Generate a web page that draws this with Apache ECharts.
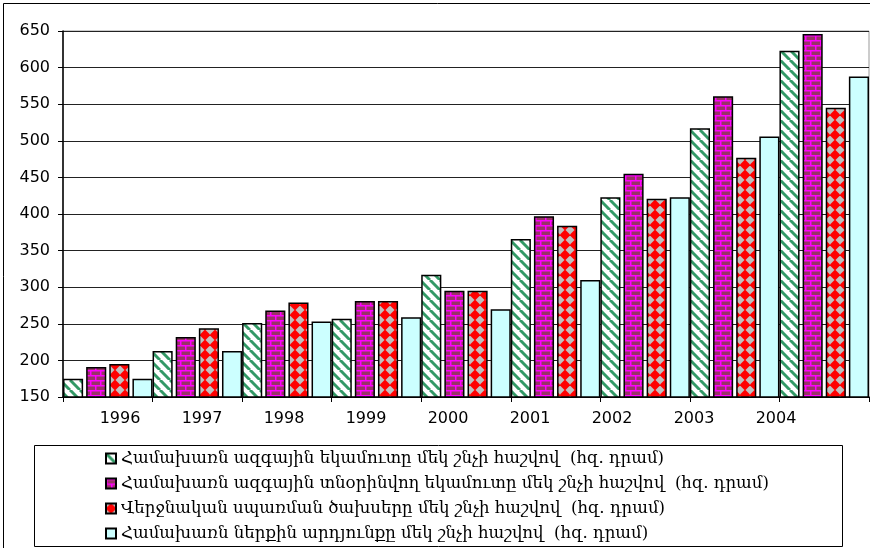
<!DOCTYPE html>
<html>
<head>
<meta charset="utf-8">
<script src="https://cdn.jsdelivr.net/npm/echarts@6/dist/echarts.min.js"></script>
<style>
  html, body {margin: 0; padding: 0; background: #fff;}
  #main {width: 870px; height: 548px;}
</style>
</head>
<body>
<div id="main"></div>
<script>
const years = ['1996', '1997', '1998', '1999', '2000', '2001', '2002', '2003', '2004']
const gniPerCapita = [175, 213, 251, 257, 317, 366, 423, 517, 623]
const disposablePerCapita = [191, 232, 268, 281, 295, 397, 455, 561, 646]
const consumptionPerCapita = [195, 244, 279, 281, 295, 384, 421, 477, 545]
const gdpPerCapita = [175, 213, 253, 259, 270, 310, 423, 506, 588]
const seriesNames = [
  'Համախառն ազգային եկամուտը մեկ շնչի հաշվով  (հզ. դրամ)',
  'Համախառն ազգային տնօրինվող եկամուտը մեկ շնչի հաշվով  (հզ. դրամ)',
  'Վերջնական սպառման ծախսերը մեկ շնչի հաշվով  (հզ. դրամ)',
  'Համախառն ներքին արդյունքը մեկ շնչի հաշվով  (հզ. դրամ)'
]

// little canvas tiles for the excel-ish fills
function tile(w, h, draw) {
  const c = document.createElement('canvas')
  c.width = w
  c.height = h
  draw(c.getContext('2d'), w, h)
  return {image: c, repeat: 'repeat'}
}

const stripes = tile(10, 10, (ctx, w, h) => {
  ctx.fillStyle = '#fff'
  ctx.fillRect(0, 0, w, h)
  ctx.strokeStyle = '#339966'
  ctx.lineWidth = 3
  for (const d of [-10, 0, 10]) {
    ctx.beginPath()
    ctx.moveTo(d, 0)
    ctx.lineTo(d + 10, 10)
    ctx.stroke()
  }
})

const bricks = tile(10, 10, (ctx, w, h) => {
  ctx.fillStyle = '#993366'
  ctx.fillRect(0, 0, w, h)
  ctx.fillStyle = '#ff00ff'
  ctx.fillRect(0, 0, w, 1.5)
  ctx.fillRect(0, 5, w, 1.5)
  ctx.fillRect(0, 0, 1.5, 5)
  ctx.fillRect(5, 5, 1.5, 5)
})

const diamonds = tile(10, 10, (ctx, w, h) => {
  ctx.fillStyle = '#c0c0c0'
  ctx.fillRect(0, 0, w, h)
  ctx.fillStyle = '#ff0000'
  ctx.beginPath()
  ctx.moveTo(5, -0.5)
  ctx.lineTo(10.5, 5)
  ctx.lineTo(5, 10.5)
  ctx.lineTo(-0.5, 5)
  ctx.closePath()
  ctx.fill()
})

const fills = [stripes, bricks, diamonds, '#ccffff']
const values = [gniPerCapita, disposablePerCapita, consumptionPerCapita, gdpPerCapita]

const chart = echarts.init(document.getElementById('main'), null, {renderer: 'canvas'})
chart.setOption({
  animation: false,
  backgroundColor: '#fff',
  textStyle: {fontFamily: 'DejaVu Sans'},
  grid: [
    {left: 63, right: 1, top: 31, bottom: 151, show: true, borderColor: '#999', borderWidth: 1},
    {left: 79, right: 53, top: 31, bottom: 151}
  ],
  xAxis: [
    {
      type: 'category',
      gridIndex: 0,
      data: years,
      axisLine: {lineStyle: {color: '#000', width: 1.5}},
      axisTick: {show: true, length: 5, lineStyle: {color: '#000'}},
      axisLabel: {show: false}
    },
    {
      // labels drawn on a slightly narrower axis, like in the original
      type: 'category',
      gridIndex: 1,
      data: years,
      axisLine: {show: false},
      axisTick: {show: false},
      axisLabel: {color: '#000', fontSize: 16, margin: 14, fontFamily: 'DejaVu Sans'}
    }
  ],
  yAxis: [
    {
      type: 'value',
      gridIndex: 0,
      min: 150,
      max: 650,
      interval: 50,
      axisLine: {show: true, lineStyle: {color: '#000', width: 1.5}},
      axisTick: {show: true, length: 5, lineStyle: {color: '#000'}},
      axisLabel: {color: '#000', fontSize: 16, margin: 13, fontFamily: 'DejaVu Sans'},
      splitLine: {lineStyle: {color: '#222', width: 1}}
    },
    {type: 'value', gridIndex: 1, min: 150, max: 650, show: false, splitLine: {show: false}}
  ],
  legend: {
    orient: 'vertical',
    left: 100,
    top: 445,
    height: 100,
    itemWidth: 10,
    itemHeight: 10,
    itemGap: 8,
    icon: 'rect',
    textStyle: {color: '#000', fontSize: 16.6, lineHeight: 17, fontFamily: 'DejaVu Serif'},
    data: seriesNames
  },
  graphic: [
    {type: 'rect', shape: {x: 3.5, y: 3.5, width: 900, height: 600}, style: {fill: null, stroke: '#000', lineWidth: 1}, silent: true, z: -1},
    {type: 'rect', shape: {x: 34.5, y: 445.5, width: 808, height: 101}, style: {fill: '#fff', stroke: '#000', lineWidth: 1}, silent: true, z: -1}
  ],
  series: seriesNames.map((name, i) => ({
    name,
    type: 'bar',
    xAxisIndex: 0,
    yAxisIndex: 0,
    barGap: '15%',
    barCategoryGap: '0%',
    data: values[i],
    itemStyle: {color: fills[i], borderColor: '#000', borderWidth: 1.5}
  }))
})
</script>
</body>
</html>
